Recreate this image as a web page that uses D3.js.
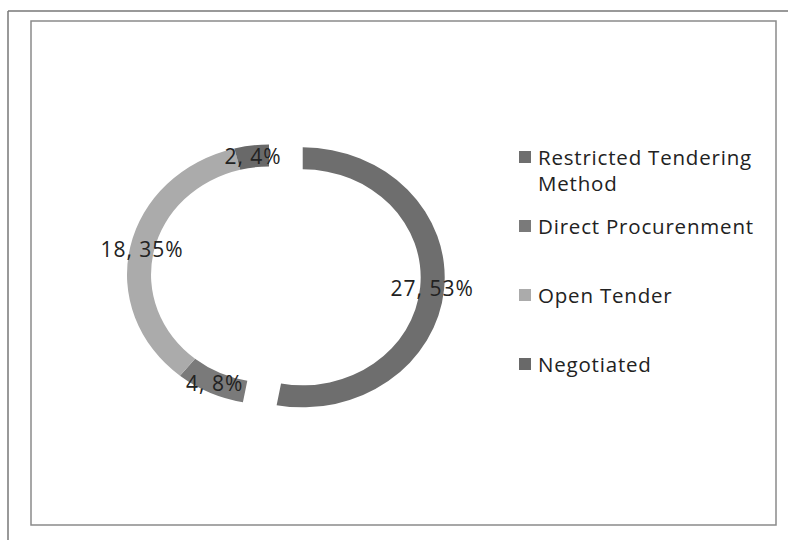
<!DOCTYPE html>
<html>
<head>
<meta charset="utf-8">
<script src="https://cdn.jsdelivr.net/npm/d3@7"></script>
<style>
  html, body { margin: 0; padding: 0; background: #fff; }
  svg { display: block; }
  text { font-family: "Open Sans", Lato, sans-serif; fill: #222; }
</style>
</head>
<body>
<svg id="chart" width="788" height="540"></svg>
<script>
// Procurement methods and counts
const categories = ["Restricted Tendering Method", "Direct Procurenment", "Open Tender", "Negotiated"];
const legendLines = [["Restricted Tendering", "Method"], ["Direct Procurenment"], ["Open Tender"], ["Negotiated"]];
const values = [27, 4, 18, 2];
const colors = ["#6e6e6e", "#7a7a7a", "#ababab", "#696969"];

const svg = d3.select("#chart");

// Page framing lines
svg.append("line").attr("x1", 8).attr("y1", 11).attr("x2", 788).attr("y2", 11)
  .attr("stroke", "#777").attr("stroke-width", 1.5);
svg.append("line").attr("x1", 8).attr("y1", 11).attr("x2", 8).attr("y2", 540)
  .attr("stroke", "#777").attr("stroke-width", 1.5);
svg.append("rect").attr("x", 31).attr("y", 21).attr("width", 745).attr("height", 504)
  .attr("fill", "#fff").attr("stroke", "#8a8a8a").attr("stroke-width", 1.5);

// Doughnut geometry (slightly wider than tall)
const cx = 269, cy = 274.5;
const outerR = 130, innerR = 108;
const sx = 142 / 130;
const explode = 31; // first slice is pulled out from the ring

const total = d3.sum(values);
const pie = d3.pie().sort(null).value(d => d)(values);
const arc = d3.arc().innerRadius(innerR).outerRadius(outerR);

const g = svg.append("g").attr("transform", `translate(${cx},${cy})`);

pie.forEach((p, i) => {
  const mid = (p.startAngle + p.endAngle) / 2;
  const off = i === 0 ? explode : 0;
  const dx = off * Math.sin(mid) * sx;
  const dy = -off * Math.cos(mid);
  const sg = g.append("g").attr("transform", `translate(${dx},${dy})`);
  sg.append("path")
    .attr("d", arc(p))
    .attr("transform", `scale(${sx},1)`)
    .attr("fill", colors[i]);
  const c = arc.centroid(p);
  sg.append("text")
    .attr("x", c[0] * sx)
    .attr("y", c[1])
    .attr("text-anchor", "middle")
    .attr("dominant-baseline", "central")
    .attr("font-size", 21)
    .attr("letter-spacing", 1)
    .text(`${values[i]}, ${Math.round(values[i] / total * 100)}%`);
});

// Legend
const legend = svg.append("g");
const rowY = d3.scaleLinear().domain([0, 1]).range([157, 226]);
categories.forEach((cat, i) => {
  const y = rowY(i);
  legend.append("rect").attr("x", 519).attr("y", y - 6).attr("width", 12).attr("height", 12)
    .attr("fill", colors[i]);
  legendLines[i].forEach((line, j) => {
    legend.append("text")
      .attr("x", 538).attr("y", y + j * 26)
      .attr("dominant-baseline", "central")
      .attr("font-size", 20.5)
      .attr("letter-spacing", 0.8)
      .text(line);
  });
});
</script>
</body>
</html>
